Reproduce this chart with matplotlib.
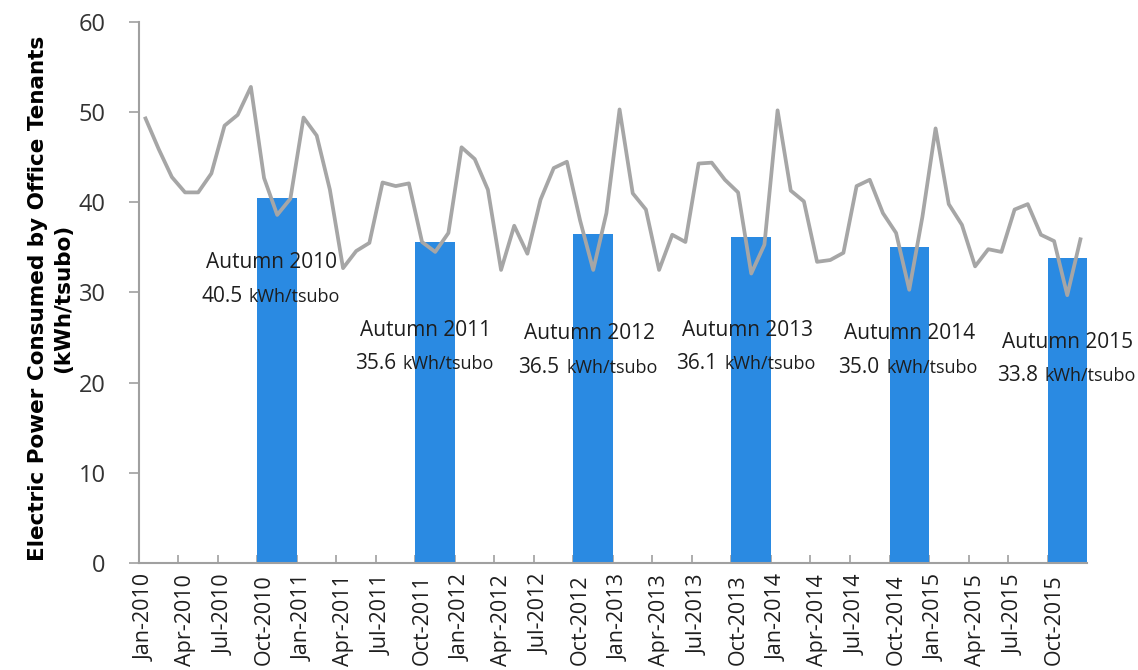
import matplotlib
matplotlib.use("Agg")
import matplotlib.pyplot as plt

plt.rcParams["font.family"] = ["Open Sans", "DejaVu Sans"]

# monthly electric power consumed by office tenants, Jan-2010 .. Dec-2015 (kWh/tsubo)
monthly_kwh = [
    49.3, 45.9, 42.8, 41.1, 41.1, 43.2, 48.5, 49.7, 52.8, 42.7, 38.6, 40.4,
    49.4, 47.4, 41.4, 32.7, 34.6, 35.5, 42.2, 41.8, 42.1, 35.6, 34.5, 36.6,
    46.1, 44.8, 41.4, 32.5, 37.4, 34.3, 40.3, 43.8, 44.5, 38.0, 32.5, 38.8,
    50.3, 41.0, 39.2, 32.5, 36.4, 35.6, 44.3, 44.4, 42.5, 41.1, 32.1, 35.3,
    50.2, 41.3, 40.1, 33.4, 33.6, 34.4, 41.8, 42.5, 38.8, 36.6, 30.3, 38.4,
    48.2, 39.8, 37.5, 32.9, 34.8, 34.5, 39.2, 39.8, 36.4, 35.7, 29.7, 35.9,
]

# autumn (Oct-Dec) averages
autumn_years = [2010, 2011, 2012, 2013, 2014, 2015]
autumn_kwh = [40.5, 35.6, 36.5, 36.1, 35.0, 33.8]

tick_labels = [
    "Jan-2010", "Apr-2010", "Jul-2010", "Oct-2010",
    "Jan-2011", "Apr-2011", "Jul-2011", "Oct-2011",
    "Jan-2012", "Apr-2012", "Jul-2012", "Oct-2012",
    "Jan-2013", "Apr-2013", "Jul-2013", "Oct-2013",
    "Jan-2014", "Apr-2014", "Jul-2014", "Oct-2014",
    "Jan-2015", "Apr-2015", "Jul-2015", "Oct-2015",
]

# where the autumn labels sit (month index, value of first line)
label_pos = [(9.6, 33.3), (21.3, 25.8), (33.7, 25.4), (45.7, 25.8), (58.0, 25.4), (70.0, 24.5)]

BAR_COLOR = "#2A8AE2"
LINE_COLOR = "#A6A6A6"
AXIS_COLOR = "#A0A0A0"
TEXT_COLOR = "#1E1E1E"

fig = plt.figure(figsize=(11.38, 6.70), dpi=100)
ax = fig.add_axes([0.1221, 0.1597, 0.8331, 0.8075])

months = list(range(len(monthly_kwh)))

# bars cover Oct, Nov, Dec of each year
bar_left = [(y - 2010) * 12 + 9 - 0.5 for y in autumn_years]
ax.bar(bar_left, autumn_kwh, width=3, align="edge", color=BAR_COLOR, zorder=2)
ax.plot(months, monthly_kwh, color=LINE_COLOR, lw=2.7, zorder=3)

for (x, y), yr, val in zip(label_pos, autumn_years, autumn_kwh):
    ax.text(x, y, f"Autumn {yr}", ha="center", va="center", fontsize=15,
            color=TEXT_COLOR, zorder=4)
    # value and unit share a baseline, unit is a little smaller
    y2 = y - 4.3
    ax.text(x - 2.25, y2, f"{val:.1f}", ha="right", va="baseline",
            fontsize=15, color=TEXT_COLOR, zorder=4)
    ax.text(x - 1.75, y2, "kWh/tsubo", ha="left", va="baseline",
            fontsize=13, color=TEXT_COLOR, zorder=4)

ax.set_xlim(-0.5, len(monthly_kwh) - 0.5)
ax.set_ylim(0, 60)
ax.set_yticks(range(0, 61, 10))

# tick marks at category edges, labels at category centres
ax.set_xticks([i - 0.5 for i in range(0, 72, 3)])
ax.set_xticklabels([])
ax.set_xticks(range(0, 72, 3), minor=True)
ax.set_xticklabels(tick_labels, minor=True, rotation=90, fontsize=15.5,
                   color=TEXT_COLOR)
ax.tick_params(axis="x", which="major", direction="in", length=6,
               color=AXIS_COLOR, width=1.2)
ax.tick_params(axis="x", which="minor", length=0, pad=8)
ax.tick_params(axis="y", direction="out", length=7, color=AXIS_COLOR,
               width=1.2, labelsize=17, labelcolor="#333333", pad=17)

for side in ("top", "right"):
    ax.spines[side].set_visible(False)
for side in ("left", "bottom"):
    ax.spines[side].set_color(AXIS_COLOR)
    ax.spines[side].set_linewidth(1.5)

ax.set_ylabel("Electric Power Consumed by Office Tenants\n(kWh/tsubo)",
              fontsize=15.5, fontweight="bold", color="black",
              family=["DejaVu Sans"], linespacing=1.35)
ax.yaxis.set_label_coords(-0.069, 0.49)

fig.savefig("out.png", dpi=100)
